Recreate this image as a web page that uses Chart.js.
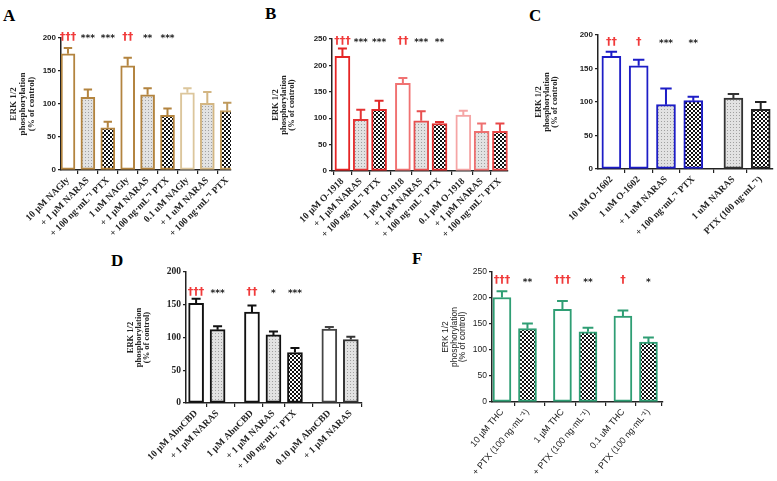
<!DOCTYPE html>
<html>
<head>
<meta charset="utf-8">
<script src="https://cdn.jsdelivr.net/npm/chart.js@4.4.0/dist/chart.umd.min.js"></script>
<style>
html,body{margin:0;padding:0;background:#fff;}
body{width:777px;height:481px;position:relative;overflow:hidden;}
canvas{position:absolute;}
.panel{position:absolute;font:bold 17px "Liberation Serif",serif;line-height:1;color:#000;}
</style>
</head>
<body>
<div class="panel" style="left:3px;top:7px">A</div>
<div class="panel" style="left:265px;top:5px">B</div>
<div class="panel" style="left:529px;top:7px">C</div>
<div class="panel" style="left:111px;top:252px">D</div>
<div class="panel" style="left:412px;top:250px">F</div>
<script>
const SERIF = '"Liberation Serif","Times New Roman",serif';
const SANS = '"Liberation Sans",Arial,sans-serif';
const yTitle = ['ERK 1/2','phosphorylation','(% of control)'];

// A - NAGly
const labelsA = ['10 µM NAGly','+ 1 µM NARAS','+ 100 ng·mL⁻¹ PTX','1 uM NAGly','+ 1 µM NARAS','+ 100 ng·mL⁻¹ PTX','0.1 uM NAGly','+ 1 uM NARAS','+ 100 ng·mL⁻¹ PTX'];
const valuesA = [176,110,64,158,114,83,117,101,90];
const errorsA = [9,12,9,12,10,10,7,17,12];
const marksA = ['†††','***','***','††','**','***','','',''];
const groupsA = [3,3,3];

// B - O-1918
const labelsB = ['10 µM O-1918','+ 1 µM NARAS','+ 100 ng·mL⁻¹ PTX','1 µM O-1918','+ 1 µM NARAS','+ 100 ng·mL⁻¹ PTX','0.1 µM O-1918','+ 1 µM NARAS','+ 100 ng·mL⁻¹ PTX'];
const valuesB = [217,98,117,166,95,90,106,75,75];
const errorsB = [15,18,16,10,18,3,8,15,15];
const marksB = ['†††','***','***','††','***','**','','',''];
const groupsB = [3,3,3];

// C - O-1602
const labelsC = ['10 uM O-1602','1 uM O-1602','+ 1 uM NARAS','+ 100 ng·mL⁻¹ PTX','1 uM NARAS','PTX (100 ng·mL⁻¹)'];
const valuesC = [168,154,96,102,106,89];
const errorsC = [7,9,24,6,6,11];
const marksC = ['††','†','***','**','',''];
const groupsC = [4,2];

// D - AbnCBD
const labelsD = ['10 µM AbnCBD','+ 1 µM NARAS','1 µM AbnCBD','+ 1 µM NARAS','+ 100 ng·mL⁻¹ PTX','0.10 µM AbnCBD','+ 1 µM NARAS'];
const valuesD = [152,112,139,104,77,113,97];
const errorsD = [7,5,10,5,7,3,4];
const marksD = ['†††','***','††','*','***','',''];
const groupsD = [2,3,2];

// F - THC
const labelsF = ['10 µM THC','+ PTX (100 ng·mL⁻¹)','1 µM THC','+ PTX (100 ng·mL⁻¹)','0.1 uM THC','+ PTX (100 ng·mL⁻¹)'];
const valuesF = [201,141,178,135,165,115];
const errorsF = [12,10,16,8,11,9];
const marksF = ['†††','**','†††','**','†','*'];
const groupsF = [2,2,2];

function makePattern(kind){
  const c = document.createElement('canvas');
  const g = c.getContext('2d');
  if(kind==='check'){
    c.width = c.height = 4;
    g.fillStyle = '#111'; g.fillRect(0,0,4,4);
    g.fillStyle = '#fff'; g.fillRect(0,0,2,2); g.fillRect(2,2,2,2);
  } else {
    c.width = c.height = 3;
    g.fillStyle = '#e2e2e2'; g.fillRect(0,0,3,3);
    g.fillStyle = '#a0a0a0'; g.fillRect(1,1,1,1);
  }
  return g.createPattern(c,'repeat');
}
const fills = {open:'#ffffff', dots:makePattern('dots'), check:makePattern('check')};

function positions(groups, gap){
  const out = []; let x = 0;
  groups.forEach(n=>{ for(let i=0;i<n;i++){ out.push(x); x++; } x += gap; });
  return out;
}

// error bars + significance marks, placed from the bar elements
const barExtras = {
  id:'barExtras',
  afterDatasetsDraw(chart){
    const ctx = chart.ctx, y = chart.scales.y;
    const ds = chart.data.datasets[0];
    chart.getDatasetMeta(0).data.forEach((bar,i)=>{
      const top = y.getPixelForValue(ds.data[i].y + ds.errors[i]);
      const cap = bar.width*0.3;
      ctx.save();
      ctx.strokeStyle = ds.borderColor[i];
      ctx.lineWidth = 2;
      ctx.beginPath();
      ctx.moveTo(bar.x, bar.y); ctx.lineTo(bar.x, top);
      ctx.moveTo(bar.x-cap, top); ctx.lineTo(bar.x+cap, top);
      ctx.stroke();
      const m = ds.marks[i];
      if(m){
        const dag = m[0]==='†';
        ctx.font = dag ? 'bold 11px "DejaVu Sans"' : 'bold 9px "DejaVu Sans"';
        ctx.fillStyle = dag ? '#f03a3a' : '#222';
        ctx.textAlign = 'center';
        ctx.textBaseline = 'middle';
        ctx.fillText(m, bar.x, y.getPixelForValue(ds.markAt) + (dag?0:2));
      }
      ctx.restore();
    });
  }
};

function makeChart(p){
  const cv = document.createElement('canvas');
  cv.width = p.box[2]; cv.height = p.box[3];
  cv.style.left = p.box[0]+'px'; cv.style.top = p.box[1]+'px';
  document.body.appendChild(cv);
  const [l,t,r,b] = p.area;
  const pos = positions(p.groups, p.gap);
  const lh = p.titleLH;
  new Chart(cv.getContext('2d'),{
    type:'bar',
    data:{datasets:[{
      data:p.values.map((v,i)=>({x:pos[i], y:v})),
      errors:p.errors, marks:p.marks, markAt:p.markAt,
      backgroundColor:p.fill.map(f=>fills[f]),
      borderColor:p.colors,
      borderWidth:2, borderSkipped:false,
      barThickness:p.barW
    }]},
    options:{
      responsive:false, animation:false, devicePixelRatio:1,
      layout:{padding:{left:0, bottom:0, top:t-p.box[1], right:p.box[0]+p.box[2]-r}},
      plugins:{legend:{display:false}, tooltip:{enabled:false}},
      scales:{
        x:{
          type:'linear', min:p.xRange[0], max:p.xRange[1], offset:false,
          afterBuildTicks:s=>{ s.ticks = pos.map(v=>({value:v})); },
          afterFit:s=>{ s.height = p.box[1]+p.box[3]-b; },
          grid:{drawOnChartArea:false, tickLength:4, color:'#222', lineWidth:1.2},
          border:{color:'#222', width:1.5},
          ticks:{autoSkip:false, minRotation:p.rot, maxRotation:p.rot, padding:1, color:'#222',
                 font:p.xFont, callback:(v,i)=>p.labels[i]}
        },
        y:{
          min:0, max:p.yMax,
          afterFit:s=>{ s.width = l-p.box[0]; },
          grid:{drawOnChartArea:false, tickLength:3, color:'#222', lineWidth:1.2},
          border:{color:'#222', width:1.5},
          ticks:{stepSize:50, padding:2, color:'#222', font:p.yFont},
          title:{display:true, text:yTitle, color:'#222', font:Object.assign({lineHeight:lh+'px'}, p.titleFont),
                 padding:{top:p.titleX-p.box[0]-lh/2, bottom:0}}
        }
      }
    },
    plugins:[barExtras]
  });
}

const brown = '#b3843f', red = '#e52525', blue = '#1d1dc6', green = '#2f9e74';

makeChart({
  box:[0,0,262,250], area:[61,38,231,170], xRange:[-0.35,8.19], groups:groupsA, gap:0,
  labels:labelsA, values:valuesA, errors:errorsA, marks:marksA, markAt:202, yMax:200, barW:14, rot:45,
  fill:['open','dots','check','open','dots','check','open','dots','check'],
  colors:[brown,brown,brown,brown,brown,brown,'#dcc69c','#d3b683','#bf9a5c'],
  titleX:14, titleLH:9, titleFont:{family:SERIF, size:9, weight:'bold'},
  xFont:{family:SERIF, size:9.5, weight:'bold'}, yFont:{family:SANS, size:8, weight:'bold'}
});

makeChart({
  box:[258,0,275,250], area:[332,39,508,171], xRange:[-0.57,9.04], groups:groupsB, gap:0.3,
  labels:labelsB, values:valuesB, errors:errorsB, marks:marksB, markAt:246, yMax:250, barW:15, rot:45,
  fill:['open','dots','check','open','dots','check','open','dots','check'],
  colors:[red,'#e43434','#e02828','#f07272','#e85050','#e03030','#f5a5a5','#ee7070','#e84848'],
  titleX:276, titleLH:8, titleFont:{family:SERIF, size:8.5, weight:'bold'},
  xFont:{family:SERIF, size:9.5, weight:'bold'}, yFont:{family:SANS, size:8, weight:'bold'}
});

makeChart({
  box:[525,0,280,250], area:[598,35,773,169], xRange:[-0.49,5.92], groups:groupsC, gap:0.47,
  labels:labelsC, values:valuesC, errors:errorsC, marks:marksC, markAt:190, yMax:200, barW:19, rot:45,
  fill:['open','open','dots','check','dots','check'],
  colors:[blue,blue,blue,blue,'#333','#222'],
  titleX:539, titleLH:8, titleFont:{family:SERIF, size:8.5, weight:'bold'},
  xFont:{family:SERIF, size:9.5, weight:'bold'}, yFont:{family:SANS, size:8, weight:'bold'}
});

makeChart({
  box:[100,245,290,236], area:[186,272,362,403], xRange:[-0.47,7.72], groups:groupsD, gap:0.6,
  labels:labelsD, values:valuesD, errors:errorsD, marks:marksD, markAt:170, yMax:200, barW:15, rot:45,
  fill:['open','dots','open','dots','check','open','dots'],
  colors:['#111','#111','#111','#111','#111','#444','#333'],
  titleX:131, titleLH:8, titleFont:{family:SERIF, size:8.5, weight:'bold'},
  xFont:{family:SERIF, size:9.5, weight:'bold'}, yFont:{family:SERIF, size:9.5, weight:'bold'}
});

makeChart({
  box:[400,245,300,236], area:[492,272,663,402], xRange:[-0.39,6.31], groups:groupsF, gap:0.37,
  labels:labelsF, values:valuesF, errors:errorsF, marks:marksF, markAt:234, yMax:250, barW:18, rot:50,
  fill:['open','check','open','check','open','check'],
  colors:[green,green,green,green,green,green],
  titleX:446, titleLH:8.5, titleFont:{family:SANS, size:8.5},
  xFont:{family:SANS, size:9}, yFont:{family:SANS, size:8.5}
});
</script>
</body>
</html>
